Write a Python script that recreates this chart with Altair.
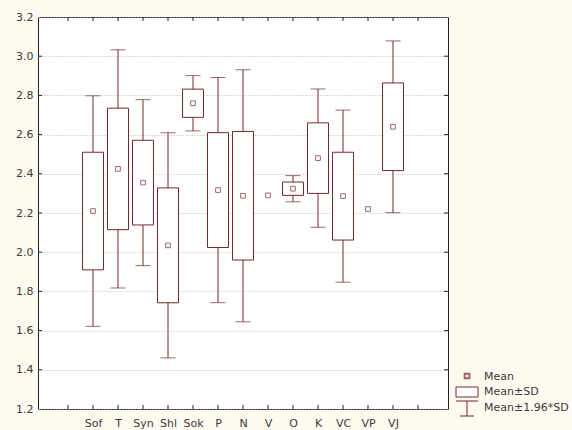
import altair as alt
import pandas as pd

# Group labels, means and standard deviations
categories = ["Sof", "T", "Syn", "Shl", "Sok", "P", "N", "V", "O", "K", "VC", "VP", "VJ"]
means = [2.21, 2.425, 2.355, 2.035, 2.76, 2.317, 2.288, 2.29, 2.324, 2.48, 2.286, 2.22, 2.64]
sds = [0.30, 0.31, 0.216, 0.293, 0.072, 0.293, 0.328, 0.0, 0.034, 0.18, 0.224, 0.0, 0.2235]

# Axis layout: groups sit at positions 2..14 on a 0..16 scale, ticks at 1..15
positions = list(range(2, 2 + len(categories)))
x_ticks = list(range(1, 16))
y_ticks = [1.2, 1.4, 1.6, 1.8, 2.0, 2.2, 2.4, 2.6, 2.8, 3.0, 3.2]

LINE = "#73292e"
TEXT = "#3a3a3a"
FONT = "DejaVu Sans"
W, H = 410, 392

rows = []
for p, c, m, s in zip(positions, categories, means, sds):
    rows.append({
        "pos": p, "name": c, "mean": m, "sd": s,
        "lo1": m - s, "hi1": m + s,
        "lo2": m - 1.96 * s, "hi2": m + 1.96 * s,
    })
df = pd.DataFrame(rows)
spread = df[df["sd"] > 0]

label_lookup = "{" + ",".join(f"'{p}':'{c}'" for p, c in zip(positions, categories)) + "}"

xs = alt.Scale(domain=[0, 16], nice=False, zero=False)
ys = alt.Scale(domain=[1.2, 3.2], nice=False, zero=False)
x_axis = alt.Axis(values=positions, labelExpr=f"{label_lookup}[datum.value]",
                  title=None, grid=False, ticks=False, domain=False,
                  labelPadding=8, labelFontSize=11, labelFont=FONT, labelColor=TEXT)
y_axis = alt.Axis(values=y_ticks, format=".1f", title=None, grid=True,
                  gridDash=[1, 2], gridColor="#b8b8b8", gridWidth=1,
                  ticks=False, domain=False, labelPadding=5,
                  labelFontSize=11, labelFont=FONT, labelColor=TEXT)

X = alt.X("pos:Q", scale=xs, axis=x_axis)

whisker = alt.Chart(spread).mark_rule(color=LINE, strokeWidth=1).encode(
    x=X, y=alt.Y("lo2:Q", scale=ys, axis=y_axis), y2="hi2:Q")
cap_top = alt.Chart(spread).mark_tick(orient="horizontal", size=15, thickness=1, color=LINE).encode(
    x=X, y=alt.Y("hi2:Q", scale=ys, axis=y_axis))
cap_bot = alt.Chart(spread).mark_tick(orient="horizontal", size=15, thickness=1, color=LINE).encode(
    x=X, y=alt.Y("lo2:Q", scale=ys, axis=y_axis))
box = alt.Chart(spread).mark_bar(size=21, fill="white", stroke=LINE, strokeWidth=1).encode(
    x=X, y=alt.Y("lo1:Q", scale=ys, axis=y_axis), y2="hi1:Q")
mean_pt = alt.Chart(df).mark_point(shape="square", size=22, filled=False, color=LINE, strokeWidth=1).encode(
    x=X, y=alt.Y("mean:Q", scale=ys, axis=y_axis))

# Inward tick marks on all four sides of the frame
xt = pd.DataFrame({"t": x_ticks})
yt = pd.DataFrame({"v": y_ticks[1:-1]})
tick_col = "#222222"
ticks_bottom = alt.Chart(xt).mark_rule(color=tick_col).encode(
    x=alt.X("t:Q", scale=xs, axis=x_axis), y=alt.value(H), y2=alt.value(H - 4))
ticks_top = alt.Chart(xt).mark_rule(color=tick_col).encode(
    x=alt.X("t:Q", scale=xs, axis=x_axis), y=alt.value(0), y2=alt.value(4))
ticks_left = alt.Chart(yt).mark_rule(color=tick_col).encode(
    y=alt.Y("v:Q", scale=ys, axis=y_axis), x=alt.value(0), x2=alt.value(4))
ticks_right = alt.Chart(yt).mark_rule(color=tick_col).encode(
    y=alt.Y("v:Q", scale=ys, axis=y_axis), x=alt.value(W), x2=alt.value(W - 4))

# Key in the lower right, outside the frame
one = pd.DataFrame({"k": [0]})
key_mean = alt.Chart(one).mark_point(shape="square", size=22, filled=False, color=LINE).encode(
    x=alt.value(429), y=alt.value(359))
key_box = alt.Chart(one).mark_rect(fill="white", stroke=LINE, strokeWidth=1).encode(
    x=alt.value(418), x2=alt.value(440), y=alt.value(370), y2=alt.value(380))
key_wv = alt.Chart(one).mark_rule(color=LINE).encode(
    x=alt.value(429), y=alt.value(384), y2=alt.value(399))
key_wt = alt.Chart(one).mark_rule(color=LINE).encode(
    x=alt.value(418), x2=alt.value(440), y=alt.value(384))
key_wb = alt.Chart(one).mark_rule(color=LINE).encode(
    x=alt.value(422), x2=alt.value(436), y=alt.value(399))

key_style = dict(align="left", baseline="middle", font=FONT, fontSize=11, color=TEXT)
key_t1 = alt.Chart(one).mark_text(text="Mean", **key_style).encode(
    x=alt.value(446), y=alt.value(360))
key_t2 = alt.Chart(one).mark_text(text="Mean±SD", **key_style).encode(
    x=alt.value(446), y=alt.value(375))
key_t3 = alt.Chart(one).mark_text(text="Mean±1.96*SD", **key_style).encode(
    x=alt.value(446), y=alt.value(391))

chart = alt.layer(
    whisker, cap_top, cap_bot, box, mean_pt,
    ticks_bottom, ticks_top, ticks_left, ticks_right,
    key_mean, key_box, key_wv, key_wt, key_wb, key_t1, key_t2, key_t3,
).properties(
    width=W, height=H,
    autosize=alt.AutoSizeParams(type="none"),
    padding={"left": 38, "top": 17, "right": 124, "bottom": 21},
).configure(
    background="#fefaf0",
).configure_view(
    fill="white", stroke="#222222", strokeWidth=1,
)

chart.save("out.html", embed_options={"renderer": "svg", "actions": False})
